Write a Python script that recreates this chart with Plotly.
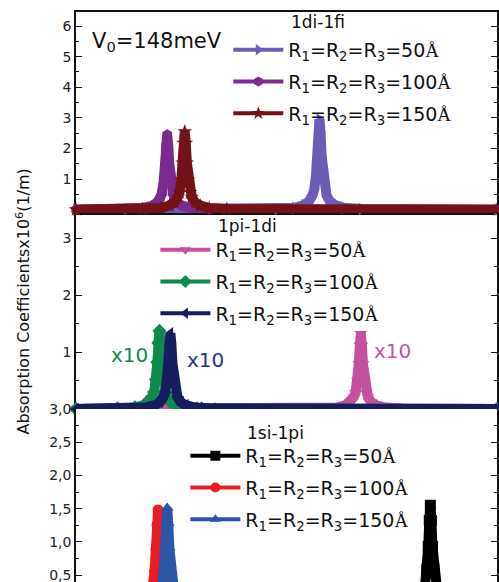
import plotly.graph_objects as go

# ---------------- data ----------------
# Panel 1: 1di-1fi
top_x_50 = [0, 28.7, 31.2, 32.5, 33.2, 33.7, 33.95, 34.2, 34.4, 34.55, 34.7, 34.85, 35.0, 35.2, 35.45, 35.7, 36.2, 36.9, 38.2, 40.7, 60]
top_y_50 = [0, 0.02, 0.06, 0.15, 0.27, 0.47, 0.65, 1.12, 1.77, 2.51, 2.95, 2.51, 1.77, 1.12, 0.65, 0.47, 0.27, 0.15, 0.06, 0.02, 0]
top_x_100 = [0, 7.0, 9.5, 10.8, 11.5, 12.0, 12.25, 12.5, 12.7, 12.85, 13.0, 13.15, 13.3, 13.5, 13.75, 14.0, 14.5, 15.2, 16.5, 19.0, 60]
top_y_100 = [0, 0.017, 0.05, 0.12, 0.22, 0.39, 0.54, 0.93, 1.47, 2.08, 2.45, 2.08, 1.47, 0.93, 0.54, 0.39, 0.22, 0.12, 0.05, 0.017, 0]
top_x_150 = [0, 9.5, 12.0, 13.3, 14.0, 14.5, 14.75, 15.0, 15.2, 15.35, 15.5, 15.65, 15.8, 16.0, 16.25, 16.5, 17.0, 17.7, 19.0, 21.5, 60]
top_y_150 = [0, 0.018, 0.05, 0.13, 0.23, 0.41, 0.56, 0.97, 1.53, 2.17, 2.55, 2.17, 1.53, 0.97, 0.56, 0.41, 0.23, 0.13, 0.05, 0.018, 0]

# Panel 2: 1pi-1di (x10)
mid_x_50 = [0, 34.6, 37.1, 38.4, 39.1, 39.6, 39.85, 40.1, 40.3, 40.45, 40.6, 40.75, 40.9, 41.1, 41.35, 41.6, 42.1, 42.8, 44.1, 46.6, 60]
mid_y_50 = [0, 0.009, 0.026, 0.066, 0.12, 0.21, 0.29, 0.50, 0.79, 1.12, 1.32, 1.12, 0.79, 0.50, 0.29, 0.21, 0.12, 0.066, 0.026, 0.009, 0]
mid_x_100 = [0, 5.9, 8.4, 9.7, 10.4, 10.9, 11.15, 11.4, 11.6, 11.75, 11.9, 12.05, 12.2, 12.4, 12.65, 12.9, 13.4, 14.1, 15.4, 17.9, 60]
mid_y_100 = [0, 0.01, 0.027, 0.07, 0.13, 0.22, 0.30, 0.52, 0.82, 1.16, 1.37, 1.16, 0.82, 0.52, 0.30, 0.22, 0.13, 0.07, 0.027, 0.01, 0]
mid_x_150 = [0, 7.45, 9.95, 11.25, 11.95, 12.45, 12.7, 12.95, 13.15, 13.3, 13.45, 13.6, 13.75, 13.95, 14.2, 14.45, 14.95, 15.65, 16.95, 19.45, 60]
mid_y_150 = [0, 0.009, 0.027, 0.067, 0.12, 0.21, 0.29, 0.51, 0.80, 1.13, 1.33, 1.13, 0.80, 0.51, 0.29, 0.21, 0.12, 0.067, 0.027, 0.009, 0]

# Panel 3: 1si-1pi
bot_x_50 = [0, 44.5, 47.0, 48.3, 49.0, 49.5, 49.75, 50.0, 50.2, 50.35, 50.5, 50.65, 50.8, 51.0, 51.25, 51.5, 52.0, 52.7, 54.0, 56.5, 60]
bot_y_50 = [0, 0.011, 0.031, 0.08, 0.14, 0.25, 0.34, 0.59, 0.93, 1.32, 1.55, 1.32, 0.93, 0.59, 0.34, 0.25, 0.14, 0.08, 0.031, 0.011, 0]
bot_x_100 = [0, 5.7, 8.2, 9.5, 10.2, 10.7, 10.95, 11.2, 11.4, 11.55, 11.7, 11.85, 12.0, 12.2, 12.45, 12.7, 13.2, 13.9, 15.2, 17.7, 60]
bot_y_100 = [0, 0.01, 0.03, 0.075, 0.13, 0.24, 0.33, 0.56, 0.89, 1.26, 1.48, 1.26, 0.89, 0.56, 0.33, 0.24, 0.13, 0.075, 0.03, 0.01, 0]
bot_x_150 = [0, 7.0, 9.5, 10.8, 11.5, 12.0, 12.25, 12.5, 12.7, 12.85, 13.0, 13.15, 13.3, 13.5, 13.75, 14.0, 14.5, 15.2, 16.5, 19.0, 60]
bot_y_150 = [0, 0.011, 0.03, 0.076, 0.14, 0.24, 0.33, 0.57, 0.91, 1.28, 1.51, 1.28, 0.91, 0.57, 0.33, 0.24, 0.14, 0.076, 0.03, 0.011, 0]

series_names = ["R<sub>1</sub>=R<sub>2</sub>=R<sub>3</sub>=50<span style=\"font-family:Liberation Serif\">Å</span>",
                "R<sub>1</sub>=R<sub>2</sub>=R<sub>3</sub>=100<span style=\"font-family:Liberation Serif\">Å</span>",
                "R<sub>1</sub>=R<sub>2</sub>=R<sub>3</sub>=150<span style=\"font-family:Liberation Serif\">Å</span>"]
panel_titles = ["1di-1fi", "1pi-1di", "1si-1pi"]

top_ticks = [1, 2, 3, 4, 5, 6]
mid_ticks = [1, 2, 3]
bot_ticks = [0.5, 1.0, 1.5, 2.0, 2.5, 3.0]

FONT = "DejaVu Sans"

panels = [
    dict(xa="x", ya="y", legend="legend", series=[
        (top_x_50, top_y_50, "#6C5CB6", "triangle-right"),
        (top_x_100, top_y_100, "#7A2B8E", "hexagon"),
        (top_x_150, top_y_150, "#731317", "star"),
    ]),
    dict(xa="x2", ya="y2", legend="legend2", series=[
        (mid_x_50, mid_y_50, "#C4519E", "triangle-down"),
        (mid_x_100, mid_y_100, "#0F8A4C", "diamond"),
        (mid_x_150, mid_y_150, "#161D5E", "triangle-left"),
    ]),
    dict(xa="x3", ya="y3", legend="legend3", series=[
        (bot_x_50, bot_y_50, "#000000", "square"),
        (bot_x_100, bot_y_100, "#EC1C24", "circle"),
        (bot_x_150, bot_y_150, "#2D55A6", "triangle-up"),
    ]),
]

fig = go.Figure()
for p in panels:
    for i, (xs, ys, col, sym) in enumerate(p["series"]):
        fig.add_trace(go.Scatter(
            x=xs, y=ys, xaxis=p["xa"], yaxis=p["ya"], mode="lines+markers",
            line=dict(color=col, width=10), marker=dict(color=col, size=11, symbol=sym),
            showlegend=False, cliponaxis=False, hoverinfo="skip"))
    for i, (xs, ys, col, sym) in enumerate(p["series"]):
        fig.add_trace(go.Scatter(
            x=[None], y=[None], xaxis=p["xa"], yaxis=p["ya"], mode="lines+markers",
            line=dict(color=col, width=4), marker=dict(color=col, size=10, symbol=sym),
            name=series_names[i], legend=p["legend"], legendgroup=p["legend"] + str(i),
            showlegend=True))

# geometry helpers (pixels -> paper)
L, R, T, B = 75.5, 497.0, 12.0, 582.0
def px(xp):
    return (xp - L) / (R - L)
def py(yp):
    return (B - yp) / (B - T)

axis_common = dict(showline=True, linecolor="#111", linewidth=1.5, mirror="ticks",
                   ticks="inside", ticklen=6, tickcolor="#111", tickwidth=1.2,
                   tickfont=dict(family=FONT, size=14, color="#222"), zeroline=False,
                   showgrid=False, layer="below traces", ticklabeloverflow="allow")
xcommon = dict(range=[0, 60], dtick=10, tick0=0, showticklabels=False, showgrid=False,
               zeroline=False, layer="below traces")

fig.update_layout(
    width=499, height=582,
    margin=dict(l=L, r=499 - R, t=T, b=0),
    paper_bgcolor="white", plot_bgcolor="white",
    separators=",.",
    font=dict(family=FONT, color="#111"),
    xaxis=dict(domain=[0, 1], anchor="y", showline=True, linecolor="#111", linewidth=1.5,
               mirror=True, ticks="inside", ticklen=6, tickcolor="#111", tickwidth=1.2, **xcommon),
    xaxis2=dict(domain=[0, 1], anchor="y2", matches="x", showline=False, ticks="", **xcommon),
    xaxis3=dict(domain=[0, 1], anchor="y3", matches="x", showline=False, ticks="", **xcommon),
    yaxis=dict(domain=[py(213), 1], anchor="x", range=[-0.11, 6.46], tickmode="array",
               tickvals=top_ticks, minor=dict(dtick=0.5, tick0=0, ticks="inside", ticklen=3.5,
               tickcolor="#111"), **axis_common),
    yaxis2=dict(domain=[py(415), py(213)], anchor="x2", range=[-0.105, 3.44], tickmode="array",
                tickvals=mid_ticks, minor=dict(dtick=0.5, tick0=0, ticks="inside", ticklen=3.5,
                tickcolor="#111"), **axis_common),
    yaxis3=dict(domain=[0, py(409)], anchor="x3", range=[0.395, 3.0], tickmode="array",
                tickvals=bot_ticks, tickformat=".1f", minor=dict(dtick=0.25, tick0=0, ticks="inside",
                ticklen=3.5, tickcolor="#111"), **axis_common),
)

legend_common = dict(bgcolor="rgba(0,0,0,0)", borderwidth=0, xanchor="left", yanchor="top",
                     font=dict(family=FONT, size=19, color="#111"), tracegroupgap=4,
                     itemwidth=50, traceorder="grouped")
fig.update_layout(
    legend=dict(x=px(228), y=py(31), **legend_common),
    legend2=dict(x=px(155), y=py(231), **legend_common),
    legend3=dict(x=px(185), y=py(437), **legend_common),
)

ann = [
    dict(text="V<sub>0</sub>=148meV", x=px(90), y=py(42), xanchor="left", yanchor="middle",
         font=dict(size=21, color="#111")),
    dict(text=panel_titles[0], x=px(289), y=py(22), xanchor="left", yanchor="middle",
         font=dict(size=17, color="#111")),
    dict(text=panel_titles[1], x=px(216), y=py(226), xanchor="left", yanchor="middle",
         font=dict(size=17, color="#111")),
    dict(text=panel_titles[2], x=px(245), y=py(433), xanchor="left", yanchor="middle",
         font=dict(size=17, color="#111")),
    dict(text="x10", x=px(129), y=py(355), xanchor="center", yanchor="middle",
         font=dict(size=20, color="#0F8A4C")),
    dict(text="x10", x=px(205), y=py(360), xanchor="center", yanchor="middle",
         font=dict(size=20, color="#2B3285")),
    dict(text="x10", x=px(392), y=py(351), xanchor="center", yanchor="middle",
         font=dict(size=20, color="#C4519E")),
    dict(text="Absorption Coefficientsx10<sup>6</sup>(1/m)", x=px(22), y=py(302),
         xanchor="center", yanchor="middle", textangle=-90,
         font=dict(size=16, color="#111")),
]
for a in ann:
    a.update(xref="paper", yref="paper", showarrow=False)
    a["font"]["family"] = FONT
fig.update_layout(annotations=ann)

fig.write_html("out.html", config={"displayModeBar": False},
               post_script="document.body.style.margin='0';document.body.style.overflow='hidden';")
